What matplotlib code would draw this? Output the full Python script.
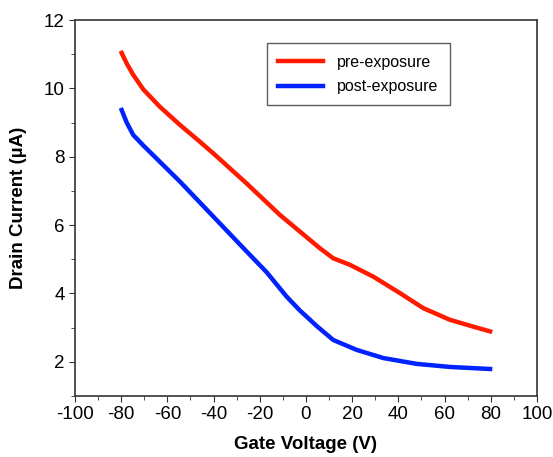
import matplotlib
matplotlib.use("Agg")
from matplotlib import pyplot as plt
from matplotlib.ticker import MultipleLocator

plt.rcParams['font.family'] = ['Liberation Sans', 'DejaVu Sans']
plt.rcParams['axes.unicode_minus'] = False

# pre-exposure curve
pre_v = [-79.8, -77.6, -74.8, -70.4, -63.2, -54.5, -47.3, -40.1, -32.9, -25.7,
         -18.5, -11.3, -2.6, 6.1, 11.8, 19.0, 29.2, 40.7, 50.8, 62.3,
         72.4, 79.7]
pre_i = [11.04, 10.73, 10.40, 9.97, 9.46, 8.93, 8.52, 8.10, 7.66, 7.22,
         6.76, 6.30, 5.81, 5.32, 5.03, 4.84, 4.49, 4.01, 3.57, 3.23,
         3.03, 2.89]

# post-exposure curve
post_v = [-79.8, -77.6, -74.8, -70.4, -63.2, -54.5, -47.3, -40.1, -32.9, -25.7,
          -17.0, -8.4, -2.6, 0.3, 4.6, 11.8, 21.9, 33.5, 47.9, 62.3,
          79.7]
post_i = [9.37, 9.00, 8.64, 8.33, 7.85, 7.27, 6.76, 6.25, 5.74, 5.23,
          4.62, 3.91, 3.50, 3.32, 3.05, 2.64, 2.35, 2.11, 1.94, 1.85,
          1.79]

fig = plt.figure(figsize=(5.53, 4.57), dpi=100)
ax = fig.add_axes([0.1356, 0.1335, 0.8354, 0.8225])

ax.plot(pre_v, pre_i, color='#ff1a00', lw=3.2, label='pre-exposure',
        solid_joinstyle='round')
ax.plot(post_v, post_i, color='#0022ff', lw=3.2, label='post-exposure',
        solid_joinstyle='round')

ax.set_xlim(-100, 100)
ax.set_ylim(1, 12)
ax.xaxis.set_major_locator(MultipleLocator(20))
ax.xaxis.set_minor_locator(MultipleLocator(10))
ax.yaxis.set_major_locator(MultipleLocator(2))
ax.yaxis.set_minor_locator(MultipleLocator(1))
ax.tick_params(which='both', direction='out', labelsize=13.5, color='#333333')
ax.tick_params(which='major', length=4)
ax.tick_params(which='minor', length=3)
for s in ax.spines.values():
    s.set_color('#333333')
    s.set_linewidth(1.2)

ax.set_xlabel('Gate Voltage (V)', fontsize=13.5, fontweight='bold', labelpad=9)
ax.set_ylabel('Drain Current (µA)', fontsize=13.5, fontweight='bold', labelpad=12)

leg = ax.legend(loc='upper left', bbox_to_anchor=(0.415, 0.938), borderaxespad=0,
                fancybox=False, edgecolor='#333333', fontsize=11.5, handlelength=2.8,
                borderpad=0.7, labelspacing=0.6, handletextpad=0.9)
leg.get_frame().set_linewidth(1.0)

fig.savefig('out.png', dpi=100)
